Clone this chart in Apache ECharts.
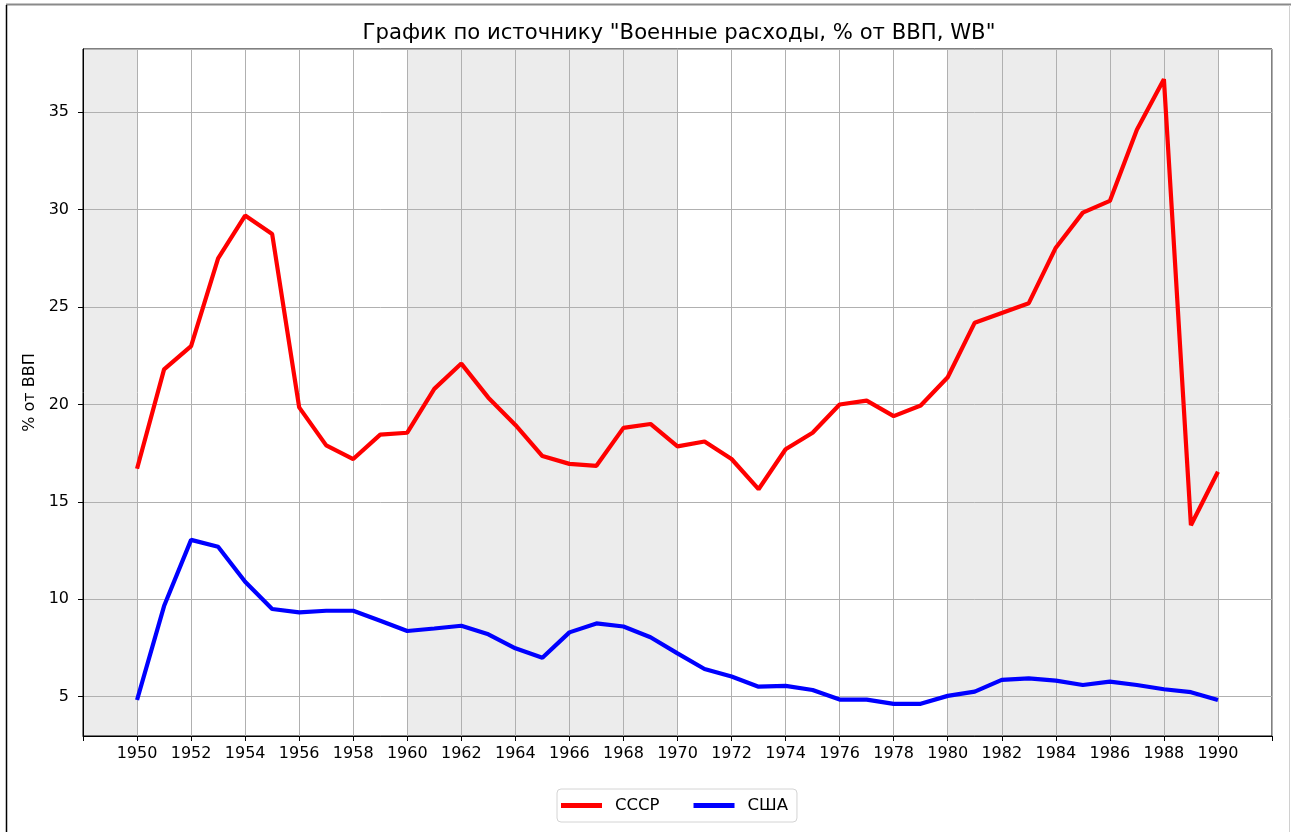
<!DOCTYPE html>
<html>
<head>
<meta charset="utf-8">
<script src="https://cdn.jsdelivr.net/npm/echarts@6/dist/echarts.min.js"></script>
<style>
html,body{margin:0;padding:0;background:#fff;}
#chart{width:1291px;height:832px;}
</style>
</head>
<body>
<div id="chart"></div>
<script>
const years = [1950,1951,1952,1953,1954,1955,1956,1957,1958,1959,1960,1961,1962,1963,1964,1965,1966,1967,1968,1969,1970,1971,1972,1973,1974,1975,1976,1977,1978,1979,1980,1981,1982,1983,1984,1985,1986,1987,1988,1989,1990];
const ussr = [16.7,21.8,23.0,27.5,29.7,28.75,19.85,17.9,17.2,18.45,18.55,20.8,22.1,20.35,18.95,17.35,16.95,16.85,18.8,19.0,17.85,18.1,17.2,15.65,17.7,18.55,20.0,20.2,19.4,19.95,21.4,24.2,24.7,25.2,28.05,29.85,30.45,34.1,36.7,13.8,16.55];
const usa = [4.83,9.65,13.05,12.7,10.9,9.5,9.33,9.41,9.41,8.9,8.37,8.5,8.64,8.2,7.48,7.0,8.3,8.76,8.6,8.05,7.22,6.42,6.03,5.51,5.55,5.34,4.85,4.85,4.63,4.63,5.04,5.26,5.86,5.94,5.82,5.6,5.77,5.6,5.38,5.23,4.83];
const shadedPeriods = [[1948,1950],[1960,1970],[1980,1990]];
const seriesNames = ['СССР','США'];
const titleText = 'График по источнику "Военные расходы, % от ВВП, WB"';
const yAxisName = '% от ВВП';

const FONT = 'DejaVu Sans';
const chart = echarts.init(document.getElementById('chart'), null, {renderer:'canvas'});

function pairs(xs, ys){ return xs.map((x,i)=>[x, ys[i]]); }

const option = {
  animation:false,
  backgroundColor:'#ffffff',
  title:{
    text:titleText,
    left:674, textAlign:'center', top:18,
    textStyle:{fontFamily:FONT,fontSize:21.2,fontWeight:'normal',color:'#000'}
  },
  grid:{left:83,right:19,top:49,bottom:96,show:true,borderColor:'#000',borderWidth:1,backgroundColor:'transparent'},
  legend:{
    data:seriesNames,
    left:557, top:789,
    orient:'horizontal',
    icon:'rect', itemWidth:41, itemHeight:5, itemGap:34,
    padding:[8,9,8,4],
    borderColor:'#d4d4d4', borderWidth:1, borderRadius:4,
    textStyle:{fontFamily:FONT,fontSize:16.5,color:'#000',padding:[0,0,0,8],lineHeight:16}
  },
  xAxis:{
    type:'value', min:1948, max:1992, interval:2,
    axisLine:{show:true,onZero:false,lineStyle:{color:'#000',width:1}},
    axisTick:{show:true,length:5,lineStyle:{color:'#000'}},
    axisLabel:{fontFamily:FONT,fontSize:16,color:'#000',margin:10,
      formatter:v=> (v<1950||v>1990)?'':String(v)},
    splitLine:{show:true,lineStyle:{color:'#b0b0b0',width:1}}
  },
  yAxis:{
    type:'value', min:2.98, max:38.25, minInterval:5, maxInterval:5, splitNumber:7,
    name:yAxisName, nameLocation:'middle', nameGap:44,
    nameTextStyle:{fontFamily:FONT,fontSize:16,color:'#000'},
    axisLine:{show:true,onZero:false,lineStyle:{color:'#000',width:1}},
    axisTick:{show:true,length:5,lineStyle:{color:'#000'}},
    axisLabel:{fontFamily:FONT,fontSize:16,color:'#000',margin:14,showMinLabel:false,showMaxLabel:false,
      formatter:v=> (Math.abs(v%5)<1e-9)?String(v):''},
    splitLine:{show:true,lineStyle:{color:'#b0b0b0',width:1}}
  },
  series:[
    {
      type:'custom', name:'shade', z:-1, silent:true,
      data:shadedPeriods,
      encode:{x:[0,1]},
      renderItem:function(params, api){
        const a = api.coord([api.value(0), 38.25]);
        const b = api.coord([api.value(1), 2.98]);
        const cs = params.coordSys;
        const rect = echarts.graphic.clipRectByRect(
          {x:a[0], y:a[1], width:b[0]-a[0], height:b[1]-a[1]},
          {x:cs.x, y:cs.y, width:cs.width, height:cs.height});
        return rect && {type:'rect', shape:rect, style:{fill:'#ececec'}};
      }
    },
    {name:seriesNames[0], type:'line', data:pairs(years, ussr), showSymbol:false, symbol:'none',
      lineStyle:{color:'#ff0000',width:4.2}, itemStyle:{color:'#ff0000'}, z:3},
    {name:seriesNames[1], type:'line', data:pairs(years, usa), showSymbol:false, symbol:'none',
      lineStyle:{color:'#0000ff',width:4.2}, itemStyle:{color:'#0000ff'}, z:3}
  ],
  graphic:[
    {type:'line', shape:{x1:6,y1:4.5,x2:1291,y2:4.5}, style:{stroke:'#8a8a8a',lineWidth:2}, silent:true},
    {type:'line', shape:{x1:6.5,y1:5,x2:6.5,y2:832}, style:{stroke:'#000',lineWidth:1.5}, silent:true},
    {type:'line', shape:{x1:1289.5,y1:5,x2:1289.5,y2:832}, style:{stroke:'#d0d0d0',lineWidth:1}, silent:true}
  ]
};
chart.setOption(option);
</script>
</body>
</html>
